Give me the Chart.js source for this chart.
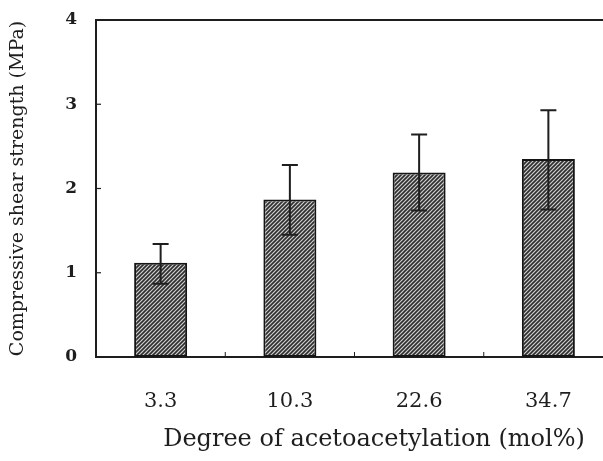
<!DOCTYPE html>
<html>
<head>
<meta charset="utf-8">
<script src="https://cdn.jsdelivr.net/npm/chart.js@4.4.1/dist/chart.umd.min.js"></script>
<style>
  html, body { margin: 0; padding: 0; background: #fff; overflow: hidden; }
  #wrap { width: 620px; height: 461px; }
</style>
</head>
<body>
<div id="wrap"><canvas id="canvasCorte" width="620" height="461"></canvas></div>
<script>
// grado de acetoacetilacion (mol%) y resistencia al corte (MPa)
var grados = ['3.3', '10.3', '22.6', '34.7'];
var resistencia = [1.12, 1.87, 2.19, 2.35];
var errorSup = [0.22, 0.41, 0.45, 0.58];
var errorInf = [0.25, 0.42, 0.45, 0.60];
var ticksY = [0, 1, 2, 3, 4];

var fuente = "'DejaVu Serif', 'Liberation Serif', serif";
var tinta = '#1e1e1e';

// relleno rayado de las barras
function patronRayado() {
  var c = document.createElement('canvas');
  c.width = 4;
  c.height = 4;
  var g = c.getContext('2d');
  g.fillStyle = '#cfcfcf';
  g.fillRect(0, 0, 4, 4);
  g.strokeStyle = '#2e2e2e';
  g.lineWidth = 1.6;
  g.beginPath();
  g.moveTo(-1, 5); g.lineTo(5, -1);
  g.moveTo(-1, 1); g.lineTo(1, -1);
  g.moveTo(3, 5); g.lineTo(5, 3);
  g.stroke();
  var ctx = document.getElementById('canvasCorte').getContext('2d');
  return ctx.createPattern(c, 'repeat');
}

// barras de error, marco superior y marcas interiores
var extras = {
  id: 'extras',
  afterDatasetsDraw: function (chart) {
    var ctx = chart.ctx;
    var x = chart.scales.x;
    var y = chart.scales.y;
    var area = chart.chartArea;
    ctx.save();
    ctx.strokeStyle = tinta;
    ctx.lineWidth = 2;

    for (var i = 0; i < resistencia.length; i++) {
      var cx = x.getPixelForValue(i);
      var yAlto = y.getPixelForValue(resistencia[i] + errorSup[i]);
      var yBajo = y.getPixelForValue(resistencia[i] - errorInf[i]);
      ctx.beginPath();
      ctx.moveTo(cx, yAlto); ctx.lineTo(cx, yBajo);
      ctx.moveTo(cx - 8, yAlto); ctx.lineTo(cx + 8, yAlto);
      ctx.moveTo(cx - 8, yBajo); ctx.lineTo(cx + 8, yBajo);
      ctx.stroke();
    }

    // linea superior del marco
    var yMax = y.getPixelForValue(ticksY[ticksY.length - 1]);
    ctx.beginPath();
    ctx.moveTo(area.left, yMax);
    ctx.lineTo(area.right, yMax);
    ctx.stroke();

    // marcas del eje Y hacia dentro
    ctx.lineWidth = 1.2;
    for (var j = 1; j < ticksY.length - 1; j++) {
      var ty = y.getPixelForValue(ticksY[j]);
      ctx.beginPath();
      ctx.moveTo(area.left, ty);
      ctx.lineTo(area.left + 5, ty);
      ctx.stroke();
    }

    // marcas del eje X entre categorias
    ctx.lineWidth = 1;
    for (var k = 1; k < grados.length; k++) {
      var tx = (x.getPixelForValue(k - 1) + x.getPixelForValue(k)) / 2;
      ctx.beginPath();
      ctx.moveTo(tx, area.bottom);
      ctx.lineTo(tx, area.bottom - 5);
      ctx.stroke();
    }

    // titulo del eje X
    ctx.fillStyle = tinta;
    ctx.font = '24px ' + fuente;
    ctx.textAlign = 'center';
    ctx.textBaseline = 'middle';
    ctx.fillText('Degree of acetoacetylation (mol%)', 374, 440);
    ctx.restore();
  }
};

var ctx = document.getElementById('canvasCorte').getContext('2d');

window.graficaCorte = new Chart(ctx, {
  type: 'bar',
  data: {
    labels: grados,
    datasets: [{
      label: 'Compressive shear strength',
      data: resistencia,
      backgroundColor: patronRayado(),
      borderColor: '#151515',
      borderWidth: 2,
      borderSkipped: false,
      barPercentage: 0.41,
      categoryPercentage: 1
    }]
  },
  options: {
    responsive: false,
    animation: false,
    layout: { padding: { top: 20, right: 7, bottom: 0, left: 0 } },
    plugins: {
      legend: { display: false },
      tooltip: { enabled: false }
    },
    scales: {
      x: {
        grid: { display: false, drawTicks: false },
        border: { display: true, color: tinta, width: 2 },
        ticks: {
          color: tinta,
          padding: 32,
          font: { family: fuente, size: 21 }
        },
        afterFit: function (s) {
          s.height = 104;
          s.paddingLeft = 0;
          s.paddingRight = 0;
        }
      },
      y: {
        min: 0,
        max: 4,
        afterBuildTicks: function (s) {
          s.ticks = ticksY.map(function (v) { return { value: v }; });
        },
        grid: { display: false, drawTicks: false },
        border: { display: true, color: tinta, width: 2 },
        ticks: {
          color: tinta,
          padding: 19,
          font: { family: fuente, size: 17, weight: 'bold' }
        },
        title: {
          display: true,
          text: 'Compressive shear strength (MPa)',
          color: tinta,
          padding: { top: 7, bottom: 0 },
          font: { family: fuente, size: 19 }
        },
        afterFit: function (s) {
          s.width = 96;
          s.paddingTop = 0;
          s.paddingBottom = 0;
        }
      }
    }
  },
  plugins: [extras]
});
</script>
</body>
</html>
